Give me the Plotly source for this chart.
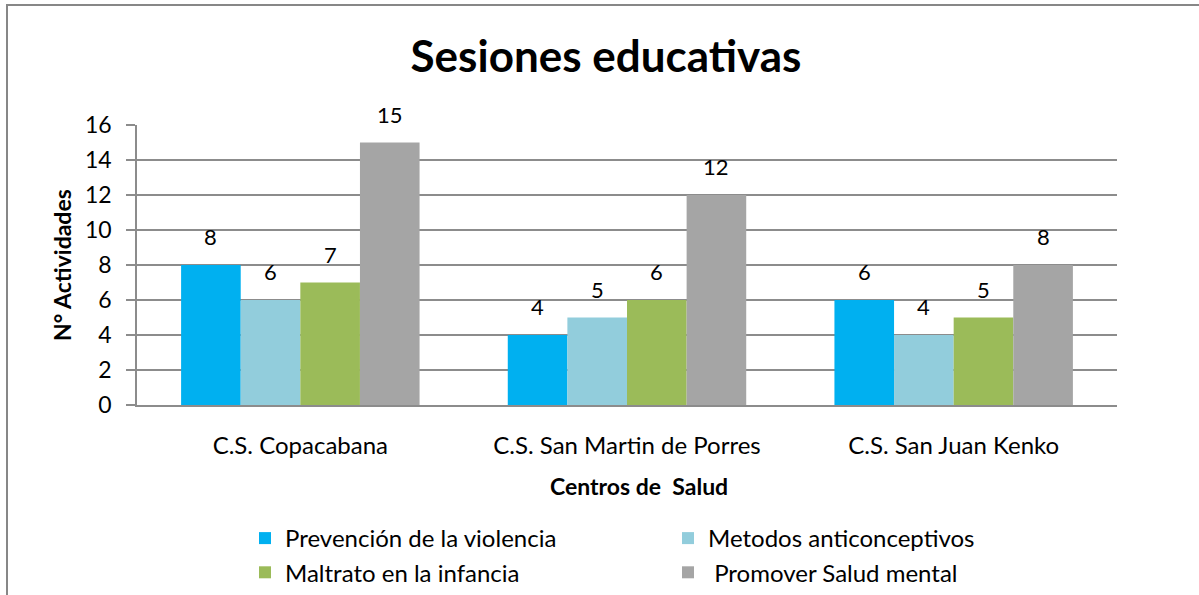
import plotly.graph_objects as go

categories = ["C.S. Copacabana", "C.S. San Martin de Porres", "C.S. San Juan Kenko"]
series_names = ["Prevención de la violencia", "Metodos anticonceptivos",
                "Maltrato en la infancia", " Promover Salud mental"]
prevencion = [8, 4, 6]
metodos = [6, 5, 4]
maltrato = [7, 6, 5]
salud_mental = [15, 12, 8]
y_ticks = [0, 2, 4, 6, 8, 10, 12, 14, 16]

colors = ["#00B0F0", "#92CDDC", "#9BBB59", "#A5A5A5"]
values = [prevencion, metodos, maltrato, salud_mental]

FONT = "Lato"
W, H = 1199, 595
L, R, T, B = 137, 82, 125, 190
bargap = 0.27
pw = W - L - R
ph = H - T - B


def px_x(x):
    return (x - L) / pw


def px_y(y):
    return (H - B - y) / ph


fig = go.Figure()
for name, vals, col in zip(series_names, values, colors):
    fig.add_trace(go.Bar(name=name, x=categories, y=vals,
                         marker=dict(color=col, line=dict(width=0))))

# data labels above bars
n = len(values)
group_w = 1 - bargap
bw = group_w / n
annotations = []
for i, vals in enumerate(values):
    off = -group_w / 2 + bw * (i + 0.5)
    for j, v in enumerate(vals):
        annotations.append(dict(x=j + off, y=v, xref="x", yref="y", text=str(v),
                                showarrow=False, yanchor="bottom", yshift=13,
                                font=dict(family=FONT, size=22, color="#000")))

annotations.append(dict(text="<b>N° Actividades</b>", textangle=-90, x=px_x(62), y=0.5,
                        xanchor="center", yanchor="middle",
                        xref="paper", yref="paper", showarrow=False,
                        font=dict(family=FONT, size=23, color="#000")))
annotations.append(dict(text="<b>Centros de&nbsp; Salud</b>", x=px_x(639), y=px_y(486),
                        xanchor="center", yanchor="middle",
                        xref="paper", yref="paper", showarrow=False,
                        font=dict(family=FONT, size=23, color="#000")))

fig.update_layout(
    width=W, height=H,
    margin=dict(l=L, r=R, t=T, b=B, autoexpand=False),
    paper_bgcolor="white", plot_bgcolor="white",
    barmode="group", bargap=bargap, bargroupgap=0,
    title=dict(text="<b>Sesiones educativas</b>", x=606 / W, xanchor="center",
               y=1 - 57 / H, yanchor="middle",
               font=dict(family=FONT, size=44, color="#000")),
    font=dict(family=FONT, size=24, color="#000"),
    annotations=annotations,
    showlegend=True,
    legend=dict(orientation="h", x=px_x(245), xanchor="left", y=px_y(516),
                yanchor="top", entrywidth=378, entrywidthmode="pixels", itemwidth=30,
                font=dict(family=FONT, size=24, color="#000"), traceorder="normal"),
    shapes=[dict(type="rect", xref="paper", yref="paper",
                 x0=px_x(7), x1=px_x(1210),
                 y0=px_y(610), y1=px_y(5),
                 line=dict(color="#878787", width=2), fillcolor="rgba(0,0,0,0)",
                 layer="below")],
)
fig.update_xaxes(showgrid=False, showline=True, linecolor="#8c8c8c", linewidth=1.5,
                 ticks="", ticklabelstandoff=18, tickfont=dict(family=FONT, size=24))
fig.update_yaxes(range=[0, 16], tickvals=y_ticks, showgrid=True, gridcolor="#8c8c8c",
                 gridwidth=1.5, showline=True, linecolor="#8c8c8c", linewidth=1.5,
                 ticks="outside", ticklen=9, tickcolor="#8c8c8c", tickwidth=1.5,
                 ticklabelstandoff=10, tickfont=dict(family=FONT, size=23), zeroline=False)

fig.write_html("out.html", config={"displayModeBar": False},
               post_script="document.body.style.margin='0';")
